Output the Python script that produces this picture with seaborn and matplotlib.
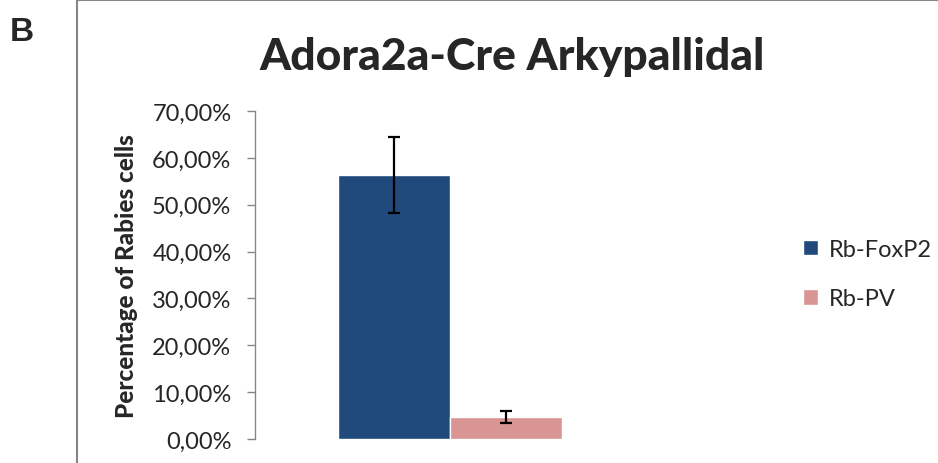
import pandas as pd
import matplotlib.pyplot as plt
import seaborn as sns
from matplotlib.lines import Line2D

sns.set_style("white")
plt.rcParams['font.family'] = ['Lato', 'DejaVu Sans']

# Datos
grupo = ["Adora2a"]
series = ["Rb-FoxP2", "Rb-PV"]
valores = [56.3, 4.7]
errores = [8.1, 1.3]
colores = ["#204A7C", "#D99594"]
yticks = [0, 10, 20, 30, 40, 50, 60, 70]
ytick_labels = ["0,00%", "10,00%", "20,00%", "30,00%", "40,00%", "50,00%", "60,00%", "70,00%"]

df = pd.DataFrame({"grupo": grupo * len(series), "serie": series, "valor": valores})

fig = plt.figure(figsize=(9.38, 4.64), dpi=100)
ax = fig.add_axes([0.2719, 0.0517, 0.4157, 0.7069])

sns.barplot(data=df, x="grupo", y="valor", hue="serie", palette=colores,
            width=0.574, errorbar=None, saturation=1, ax=ax)

# barras de error
for p, e in zip(ax.patches[:len(series)], errores):
    xc = p.get_x() + p.get_width() / 2
    ax.errorbar(xc, p.get_height(), yerr=e, color="black", lw=1.6,
                capsize=4.5, capthick=1.6)

ax.set_ylim(0, 70)
ax.set_xlim(-0.5, 0.5)
ax.set_yticks(yticks)
ax.set_yticklabels(ytick_labels, fontsize=17)
ax.set_xticks([])
ax.set_xlabel("")
ax.set_ylabel("Percentage of Rabies cells", fontsize=17.5, fontweight=900, labelpad=10)
ax.tick_params(axis="y", direction="out", length=6, width=1, color="#868686", left=True, pad=11)
for s in ["top", "right", "bottom"]:
    ax.spines[s].set_visible(False)
ax.spines["left"].set_color("#868686")
ax.spines["left"].set_linewidth(1)

ax.legend(loc="center left", bbox_to_anchor=(1.35, 0.503), frameon=False, fontsize=17,
          handlelength=0.65, handleheight=0.65, handletextpad=0.45, labelspacing=1.2)

fig.text(0.546, 0.877, "Adora2a-Cre Arkypallidal", ha="center", va="center",
         fontsize=32, fontweight=900)
fig.text(0.01, 0.93, "B", ha="left", va="center", fontsize=24, fontweight="bold",
         family="Liberation Sans")

# marco
fig.add_artist(Line2D([0.082, 0.082], [0, 0.999], color="#868686", lw=1.5))
fig.add_artist(Line2D([0.082, 1], [0.998, 0.998], color="#868686", lw=1.5))

fig.savefig("out.png", dpi=100)
